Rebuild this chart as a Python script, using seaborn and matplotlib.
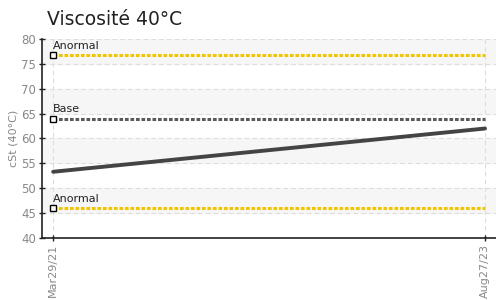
import pandas as pd
import matplotlib.pyplot as plt
import matplotlib.dates as mdates
import seaborn as sns

dates = pd.to_datetime(["2021-03-29", "2023-08-27"])
viscosity = [53.3, 62.0]
date_labels = ["Mar29/21", "Aug27/23"]

limit_names = ["Anormal", "Base", "Anormal"]
limit_values = [76.8, 64.0, 46.0]
limit_colors = ["#f2c500", "#5a5a5a", "#f2c500"]

y_ticks = [40, 45, 50, 55, 60, 65, 70, 75, 80]

sns.set_style("white")
plt.rcParams["font.family"] = ["DejaVu Sans"]

df = pd.DataFrame({"date": dates, "cst": viscosity})

fig = plt.figure(figsize=(4.96, 3.0), dpi=100)
ax = fig.add_axes([0.085, 0.207, 0.915, 0.663])

# alternating bands
for lo in [45, 55, 65, 75]:
    ax.axhspan(lo, lo + 5, color="#f6f6f6", zorder=0)

for name, val, col in zip(limit_names, limit_values, limit_colors):
    ldf = pd.DataFrame({"date": dates, "cst": [val, val]})
    sns.lineplot(data=ldf, x="date", y="cst", ax=ax, color=col, lw=2.2,
                 linestyle=(0, (1.2, 0.6)), zorder=3)
    ax.plot(dates[0], val, marker="s", ms=4.5, mfc="white", mec="black",
            mew=1, zorder=5)
    ax.annotate(name, (dates[0], val), xytext=(0, 3), textcoords="offset points",
                fontsize=8, color="#222222", ha="left", va="bottom", zorder=6)

sns.lineplot(data=df, x="date", y="cst", ax=ax, color="#444444", lw=2.8, zorder=4)

pad = pd.Timedelta(days=22.4)
ax.set_xlim(dates[0] - pad, dates[-1] + pad)
ax.set_ylim(40, 80)
ax.set_yticks(y_ticks)
ax.set_xticks(mdates.date2num(dates))
ax.set_xticklabels(date_labels, rotation=90)

ax.grid(True, color="#dddddd", linestyle=(0, (4, 3)), lw=0.8)
ax.set_axisbelow(True)
for s in ["top", "right"]:
    ax.spines[s].set_visible(False)
for s in ["left", "bottom"]:
    ax.spines[s].set_color("#222222")
    ax.spines[s].set_linewidth(1.2)
ax.tick_params(axis="both", direction="inout", length=5, width=1, colors="#222222",
               labelcolor="#888888", labelsize=8.5, pad=2, left=True, bottom=True)
for lab in ax.get_xticklabels():
    lab.set_fontsize(8)

ax.set_xlabel("")
ax.set_ylabel("cSt (40°C)", color="#888888", fontsize=8, labelpad=2)

fig.text(0.095, 0.903, "Viscosité 40°C", fontsize=13.5, color="#222222",
         ha="left", va="bottom")

fig.savefig("out.png", dpi=100)
